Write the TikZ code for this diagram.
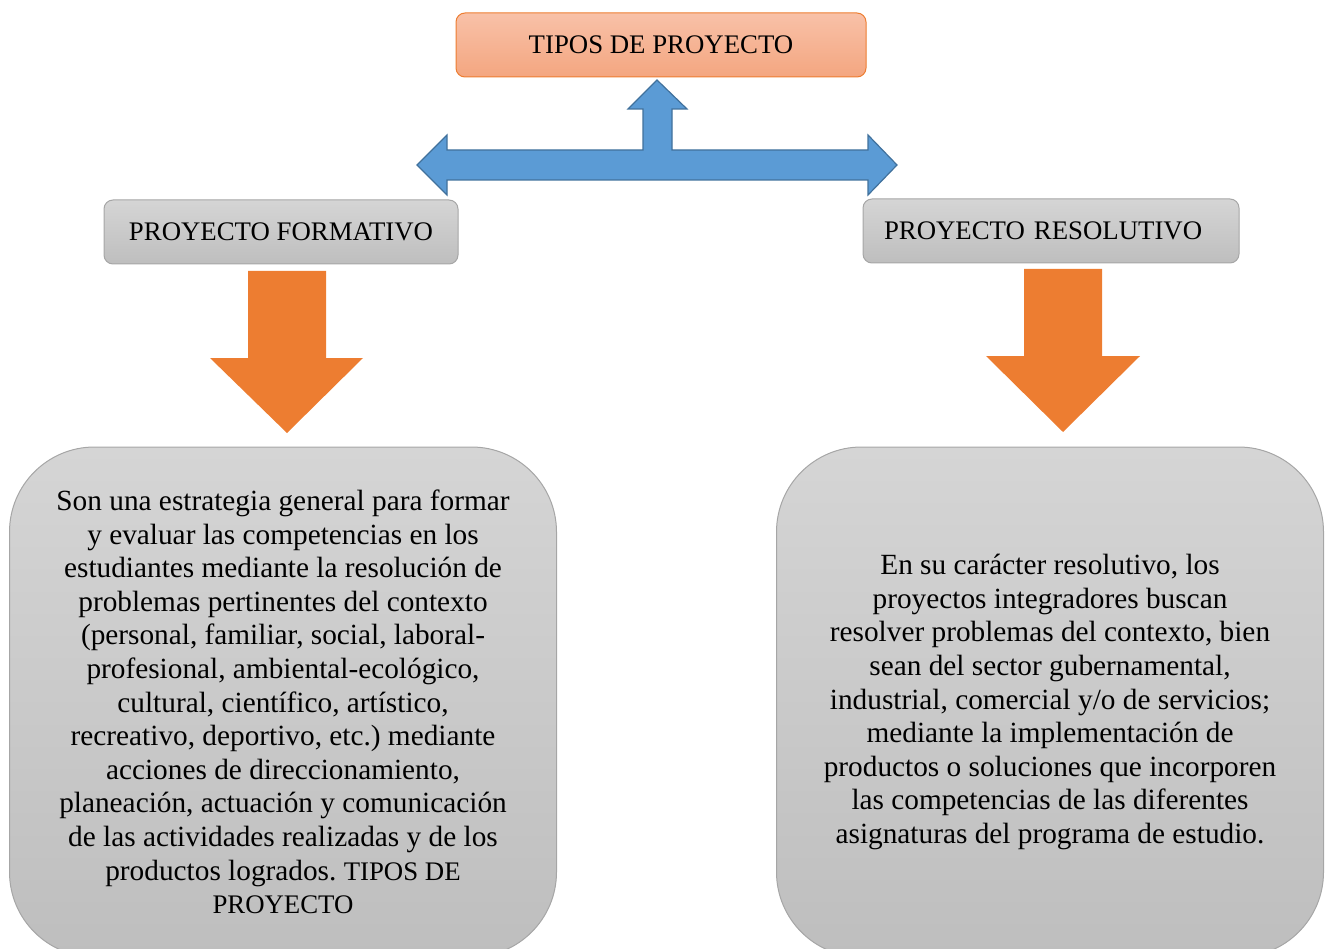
\documentclass[tikz,border=0pt]{standalone}
\usepackage{fontspec}
\setmainfont{Liberation Serif}
\frenchspacing
\definecolor{salmonTop}{HTML}{F8C1A8}
\definecolor{salmonBot}{HTML}{F4A680}
\definecolor{orangeLine}{HTML}{ED7D31}
\definecolor{grayTop}{HTML}{D5D5D5}
\definecolor{grayBot}{HTML}{BEBEBE}
\definecolor{grayLine}{HTML}{A6A6A6}
\definecolor{blueFill}{HTML}{5B9BD5}
\definecolor{blueLine}{HTML}{41719C}
\begin{document}
\begin{tikzpicture}[x=1pt,y=-1pt, line join=round,
		every node/.style={font=\fontsize{26.8}{33.6}\selectfont, align=center, inner sep=0pt},
		titlebox/.style={draw=orangeLine, line width=1pt, top color=salmonTop, bottom color=salmonBot, rounded corners=9pt, minimum width=410pt, minimum height=64pt},
		typebox/.style={draw=grayLine, line width=1pt, top color=grayTop, bottom color=grayBot, rounded corners=9pt, minimum height=64pt},
		descbox/.style={draw=grayLine, line width=1pt, top color=grayTop, bottom color=grayBot, rounded corners=85pt, minimum width=547pt, minimum height=510pt, font=\fontsize{29.3}{33.6}\selectfont},
		bluearrow/.style={fill=blueFill, draw=blueLine, line width=1.2pt, line join=miter},
		orangearrow/.style={fill=orangeLine}]
			\useasboundingbox (0,0) rectangle (1327,949);
			\node[titlebox] (tipos) at (661,45) {TIPOS DE PROYECTO};
			\node[typebox, minimum width=354pt] (formativo) at (281,232) {PROYECTO FORMATIVO};
			\node[typebox, minimum width=376pt, text width=334pt, inner xsep=21pt, align=left] (resolutivo) at (1051,231) {PROYECTO RESOLUTIVO};
			\node[descbox] (descF) at (283,702) {Son una estrategia general para formar\\y evaluar las competencias en los\\estudiantes mediante la resolución de\\problemas pertinentes del contexto\\(personal, familiar, social, laboral-\\profesional, ambiental-ecológico,\\cultural, científico, artístico,\\recreativo, deportivo, etc.) mediante\\acciones de direccionamiento,\\planeación, actuación y comunicación\\de las actividades realizadas y de los\\productos logrados. {\fontsize{26.8}{33.6}\selectfont TIPOS DE}\\{\fontsize{26.8}{33.6}\selectfont PROYECTO}};
			\node[descbox] (descR) at (1050,702) {En su carácter resolutivo, los\\proyectos integradores buscan\\resolver problemas del contexto, bien\\sean del sector gubernamental,\\industrial, comercial y/o de servicios;\\mediante la implementación de\\productos o soluciones que incorporen\\las competencias de las diferentes\\asignaturas del programa de estudio.};
			\draw[bluearrow] (417,165) -- (447,135) -- (447,150) -- (643,150) -- (643,109) -- (628,109) -- (657,80) -- (687,109) -- (672,109) -- (672,150) -- (868,150) -- (868,135) -- (897,165) -- (868,195) -- (868,180) -- (447,180) -- (447,195) -- cycle;
			\fill[orangearrow] (248,271) -- (326,271) -- (326,358) -- (363,358) -- (287,433) -- (210,358) -- (248,358) -- cycle;
			\fill[orangearrow] (1024,269) -- (1102,269) -- (1102,356) -- (1140,356) -- (1063,432) -- (986,356) -- (1024,356) -- cycle;
		\end{tikzpicture}
\end{document}
